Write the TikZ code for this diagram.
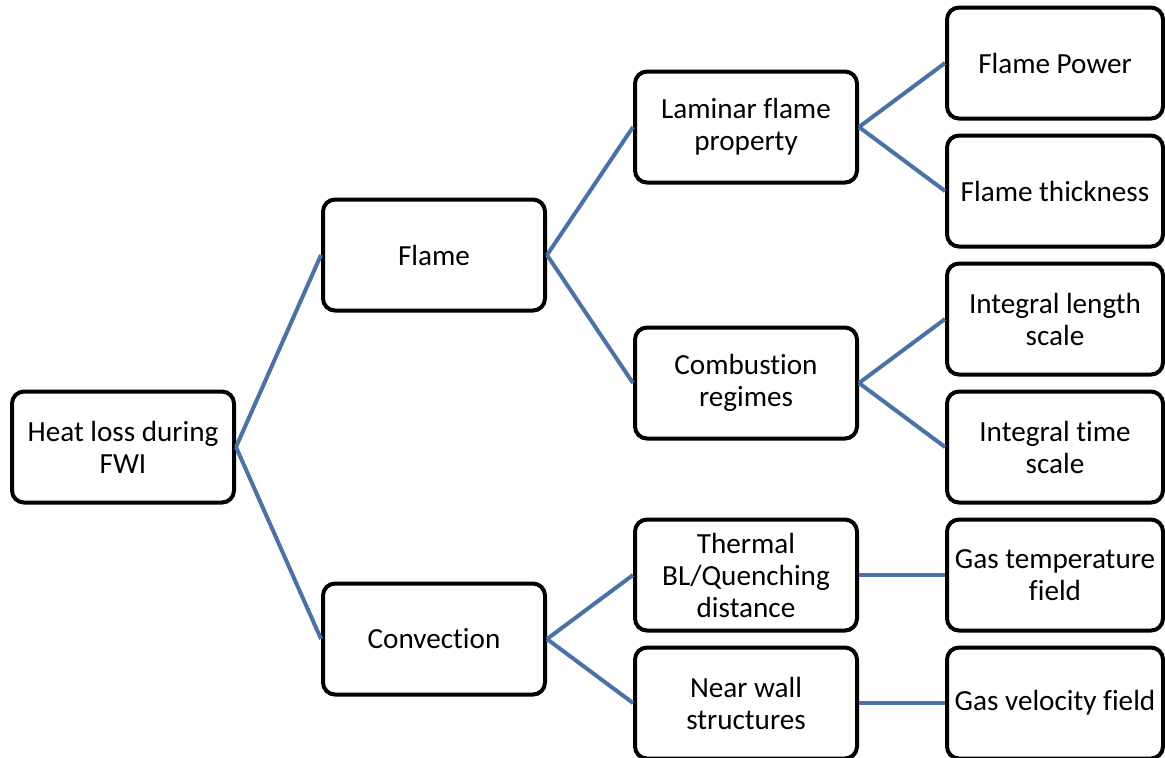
\documentclass[tikz,border=0pt]{standalone}
\usepackage{fontspec}
\setmainfont{Carlito}[Ligatures=NoCommon]
\usetikzlibrary{positioning}
\definecolor{linkblue}{RGB}{72,114,168}
\tikzset{
  loss box/.style={draw,rounded corners=1.2mm,line width=0.4mm,minimum width=22.2mm,minimum height=11.1mm,inner sep=0pt,align=center,fill=white,font=\fontsize{8.3pt}{9.1pt}\selectfont},
  side box/.style={loss box,minimum width=21.6mm},
  loss edge/.style={linkblue,line width=0.4mm},
}
\begin{document}
\begin{tikzpicture}[x=0.1mm,y=-0.1mm]
  \useasboundingbox (0,0) rectangle (1165,757);
  \node[loss box] (heat) at (123,447) {Heat loss during\\FWI};
  \node[loss box] (flame) at (434,255) {Flame};
  \node[loss box] (conv) at (434,639) {Convection};
  \node[loss box] (lam) at (746,127) {Laminar flame\\property};
  \node[loss box] (comb) at (746,383) {Combustion\\regimes};
  \node[loss box] (therm) at (746,575) {Thermal\\BL/Quenching\\distance};
  \node[loss box] (wall) at (746,703) {Near wall\\structures};
  \node[side box] (power) at (1055,63) {Flame Power};
  \node[side box] (thick) at (1055,191) {Flame thickness};
  \node[side box] (length) at (1055,319) {Integral length\\scale};
  \node[side box] (time) at (1055,447) {Integral time\\scale};
  \node[side box] (temp) at (1055,575) {Gas temperature\\field};
  \node[side box] (vel) at (1055,703) {Gas velocity field};
  \draw[loss edge] (heat.east) -- (flame.west);
  \draw[loss edge] (heat.east) -- (conv.west);
  \draw[loss edge] (flame.east) -- (lam.west);
  \draw[loss edge] (flame.east) -- (comb.west);
  \draw[loss edge] (conv.east) -- (therm.west);
  \draw[loss edge] (conv.east) -- (wall.west);
  \draw[loss edge] (lam.east) -- (power.west);
  \draw[loss edge] (lam.east) -- (thick.west);
  \draw[loss edge] (comb.east) -- (length.west);
  \draw[loss edge] (comb.east) -- (time.west);
  \draw[loss edge] (therm.east) -- (temp.west);
  \draw[loss edge] (wall.east) -- (vel.west);
\end{tikzpicture}
\end{document}
